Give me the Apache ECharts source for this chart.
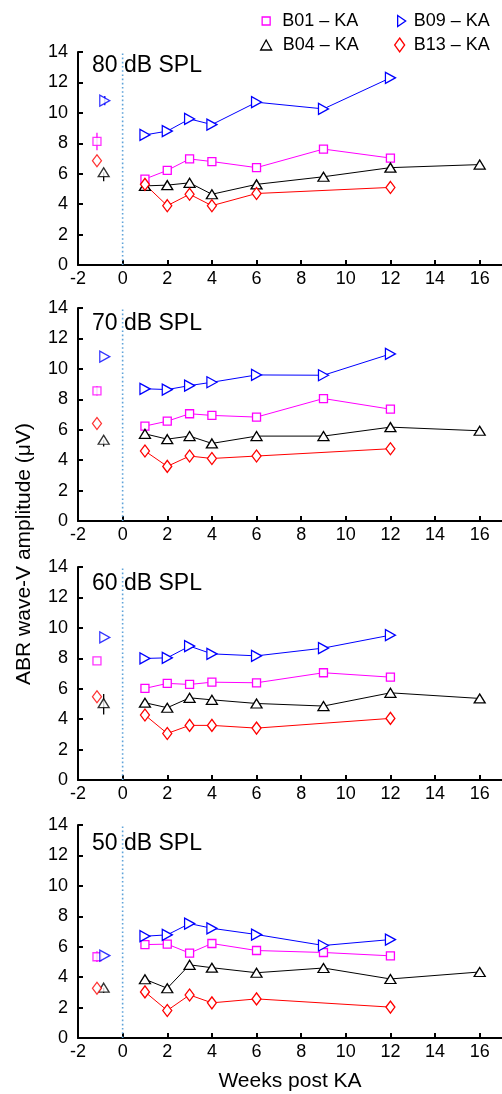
<!DOCTYPE html>
<html>
<head>
<meta charset="utf-8">
<script src="https://cdn.jsdelivr.net/npm/echarts@6/dist/echarts.min.js"></script>
<style>
html,body{margin:0;padding:0;background:#fff;}
#chart{width:502px;height:1094px;}
</style>
</head>
<body>
<div id="chart"></div>
<script>
// ---- Data ----
const weeks = [1, 2, 3, 4, 6, 9, 12, 16];
const panelLabels = ['80 dB SPL', '70 dB SPL', '60 dB SPL', '50 dB SPL'];
const xTicks = [-2, 0, 2, 4, 6, 8, 10, 12, 14, 16];
const yTicks = [0, 2, 4, 6, 8, 10, 12, 14];
const subjects = ['B01 – KA', 'B04 – KA', 'B09 – KA', 'B13 – KA'];
const baselineX = [-1.15, -0.85, -0.8, -1.15];

// post-KA values per panel (80,70,60,50 dB), aligned with weeks; null = not measured
const B01 = [
  [5.65, 6.22, 6.97, 6.8, 6.4, 7.62, 7.03, null],
  [6.24, 6.56, 7.05, 6.94, 6.83, 8.05, 7.35, null],
  [6.02, 6.35, 6.28, 6.43, 6.39, 7.05, 6.76, null],
  [6.14, 6.17, 5.58, 6.21, 5.75, 5.62, 5.4, null]
];
const B04 = [
  [5.2, 5.25, 5.4, 4.65, 5.3, 5.8, 6.4, 6.6],
  [5.73, 5.38, 5.58, 5.1, 5.58, 5.58, 6.17, 5.93],
  [5.08, 4.75, 5.4, 5.27, 5.03, 4.86, 5.73, 5.36],
  [3.86, 3.27, 4.81, 4.62, 4.29, 4.6, 3.88, 4.34]
];
const B09 = [
  [8.55, 8.8, 9.6, 9.23, 10.7, 10.26, 12.3, null],
  [8.69, 8.64, 8.9, 9.12, 9.6, 9.58, 10.98, null],
  [7.99, 8.03, 8.8, 8.29, 8.16, 8.67, 9.52, null],
  [6.69, 6.78, 7.52, 7.21, 6.8, 6.08, 6.47, null]
];
const B13 = [
  [5.3, 3.9, 4.65, 3.9, 4.7, null, 5.1, null],
  [4.6, 3.59, 4.27, 4.11, 4.27, null, 4.75, null],
  [4.27, 3.06, 3.59, 3.59, 3.41, null, 4.05, null],
  [3.03, 1.81, 2.83, 2.31, 2.57, null, 2.03, null]
];
// pre-KA baseline values per panel: [B01, B04, B09, B13]
const baseline = [
  [8.12, 6.1, 10.8, 6.85],
  [8.55, 5.34, 10.8, 6.41],
  [7.83, 5.05, 9.37, 5.47],
  [5.34, 3.31, 5.42, 3.27]
];
// baseline error bars per panel: [low, high] for [B01, B04, B09, B13]; null = not visible
const baselineErr = [
  [[7.55, 8.7], [5.5, 6.1], [10.5, 11.1], null],
  [[8.25, 8.85], [4.9, 5.34], null, null],
  [null, [4.3, 5.65], null, null],
  [[5.0, 5.7], [2.95, 3.31], null, null]
];

// ---- Styles ----
const colors = ['#ff00ff', '#000000', '#0000ff', '#ff0000'];
const symbols = ['rect', 'triangle', 'triangle', 'diamond'];
const symSizes = [[8, 8], [11, 9], [11, 10], [9, 12]];
const symRot = [0, 0, -90, 0];
const FONT = 'Liberation Sans, Arial, sans-serif';
const gridTops = [52, 308, 567, 825];
const gridH = 213;
const labelTops = [54, 312, 572, 832];
const refColor = '#5fa3d9';

const allSeries = [B01, B04, B09, B13];

const grids = [], xAxes = [], yAxes = [], series = [], titles = [];
for (let p = 0; p < 4; p++) {
  grids.push({left: 78, right: 0, top: gridTops[p], height: gridH});
  xAxes.push({
    type: 'value', gridIndex: p, min: -2, max: 17, interval: 2,
    axisLine: {show: true, onZero: false, lineStyle: {color: '#000', width: 2}},
    axisTick: {show: true, inside: true, length: 5, lineStyle: {color: '#000', width: 2}},
    axisLabel: {show: true, color: '#000', fontSize: 18, fontFamily: FONT, margin: 5, showMaxLabel: false,
      formatter: v => (xTicks.indexOf(v) >= 0 ? String(v) : '')},
    splitLine: {show: false},
    name: p === 3 ? 'Weeks post KA' : '',
    nameLocation: 'middle', nameGap: 33,
    nameTextStyle: {color: '#000', fontSize: 21, fontFamily: FONT}
  });
  yAxes.push({
    type: 'value', gridIndex: p, min: 0, max: 14, interval: 2,
    axisLine: {show: true, onZero: false, lineStyle: {color: '#000', width: 2}},
    axisTick: {show: true, inside: true, length: 5, lineStyle: {color: '#000', width: 2}},
    axisLabel: {show: true, color: '#000', fontSize: 18, fontFamily: FONT, margin: 10,
      formatter: v => (yTicks.indexOf(v) >= 0 ? String(v) : '')},
    splitLine: {show: false}
  });
  titles.push({
    text: panelLabels[p], left: 92, top: labelTops[p], padding: 0,
    textStyle: {color: '#000', fontSize: 23, fontWeight: 'normal', fontFamily: FONT}
  });

  // error bars
  const errData = [];
  for (let s = 0; s < 4; s++) {
    const e = baselineErr[p][s];
    if (e) errData.push([baselineX[s], e[0], e[1], s]);
  }
  series.push({
    type: 'custom', xAxisIndex: p, yAxisIndex: p, z: 1, silent: true,
    data: errData,
    renderItem: function (params, api) {
      const x = api.value(0), lo = api.value(1), hi = api.value(2), s = api.value(3);
      const a = api.coord([x, lo]), b = api.coord([x, hi]);
      return {type: 'line', shape: {x1: a[0], y1: a[1], x2: b[0], y2: b[1]},
        style: {stroke: colors[s], lineWidth: 1.3}};
    }
  });

  // reference line at week 0 (dotted)
  series.push({
    type: 'line', xAxisIndex: p, yAxisIndex: p, z: 0, silent: true,
    data: [[0, 0], [0, 14]], showSymbol: false, symbol: 'none',
    itemStyle: {color: refColor},
    lineStyle: {color: refColor, width: 1.6, type: [1.6, 2.6]},
    emphasis: {disabled: true}, animation: false
  });

  for (let s = 0; s < 4; s++) {
    const vals = allSeries[s][p];
    const data = [];
    weeks.forEach((w, i) => { if (vals[i] !== null) data.push([w, vals[i]]); });
    const itemStyle = {color: '#fff', borderColor: colors[s], borderWidth: 1.3};
    series.push({
      type: 'line', name: subjects[s], xAxisIndex: p, yAxisIndex: p, z: 3,
      data: data, showSymbol: true, symbol: symbols[s], symbolSize: symSizes[s], symbolRotate: symRot[s],
      itemStyle: itemStyle, lineStyle: {color: colors[s], width: 1},
      emphasis: {disabled: true}, animation: false
    });
    series.push({
      type: 'scatter', name: subjects[s], xAxisIndex: p, yAxisIndex: p, z: 3,
      data: [[baselineX[s], baseline[p][s]]],
      symbol: symbols[s], symbolSize: symSizes[s], symbolRotate: symRot[s],
      itemStyle: itemStyle, emphasis: {disabled: true}, animation: false
    });
  }
}

function legendItem(name, idx, left, top, icon, w, h, pad) {
  return {
    left: left, top: top, padding: 0, itemWidth: w, itemHeight: h, selectedMode: false,
    textStyle: {color: '#000', fontSize: 18, fontFamily: FONT, lineHeight: 18, padding: [0, 0, 0, pad]},
    data: [{name: name, icon: icon,
      itemStyle: {color: '#fff', borderColor: colors[idx], borderWidth: 1.3}}]
  };
}

const option = {
  animation: false,
  backgroundColor: '#fff',
  title: titles,
  legend: [
    legendItem(subjects[0], 0, 261.5, 12, 'rect', 8, 8, 7),
    legendItem(subjects[1], 1, 260, 36, 'triangle', 11, 10, 6),
    legendItem(subjects[2], 2, 397, 12, 'path://M0,0L8,5.5L0,11Z', 8, 11, 3),
    legendItem(subjects[3], 3, 394, 36, 'diamond', 10, 14, 4)
  ],
  grid: grids,
  xAxis: xAxes,
  yAxis: yAxes,
  series: series,
  graphic: [{
    type: 'text', x: 24, y: 554, rotation: Math.PI / 2,
    style: {text: 'ABR wave-V amplitude (μV)', fill: '#000', font: '21px ' + FONT,
      align: 'center', verticalAlign: 'middle'}
  }]
};

const chart = echarts.init(document.getElementById('chart'), null, {renderer: 'canvas'});
chart.setOption(option);
</script>
</body>
</html>
